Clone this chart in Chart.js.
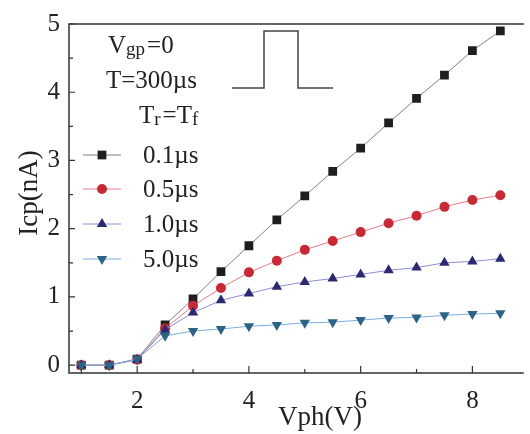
<!DOCTYPE html>
<html>
<head>
<meta charset="utf-8">
<script src="https://cdn.jsdelivr.net/npm/chart.js@4/dist/chart.umd.min.js"></script>
<style>
  body { margin: 0; background: #fff; }
</style>
</head>
<body>
<canvas id="myChart" width="530" height="434"></canvas>
<script>
var vph = [1, 1.5, 2, 2.5, 3, 3.5, 4, 4.5, 5, 5.5, 6, 6.5, 7, 7.5, 8, 8.5];
var icp01 = [0, 0, 0.09, 0.59, 0.97, 1.37, 1.75, 2.13, 2.48, 2.84, 3.18, 3.55, 3.91, 4.25, 4.61, 4.90];
var icp05 = [0, 0, 0.08, 0.54, 0.87, 1.13, 1.36, 1.53, 1.69, 1.82, 1.95, 2.08, 2.19, 2.32, 2.42, 2.49];
var icp10 = [0, 0, 0.08, 0.52, 0.77, 0.95, 1.05, 1.15, 1.22, 1.27, 1.33, 1.39, 1.43, 1.50, 1.52, 1.56];
var icp50 = [0, 0, 0.09, 0.43, 0.50, 0.53, 0.57, 0.59, 0.62, 0.63, 0.66, 0.69, 0.70, 0.73, 0.75, 0.76];
var seriesNames = ["0.1µs", "0.5µs", "1.0µs", "5.0µs"];
var xTickLabels = [2, 4, 6, 8];
var xMinorTicks = [1, 3, 5, 7];
var yTickLabels = [0, 1, 2, 3, 4, 5];
var yMinorTicks = [0.5, 1.5, 2.5, 3.5, 4.5];

var serif = '"Liberation Serif", "Times New Roman", serif';

function toPoints(ys) {
    return vph.map(function(x, i) { return { x: x, y: ys[i] }; });
}

function makeSet(label, ys, marker, line, style, radius, rot, order) {
    return {
        label: label,
        data: toPoints(ys),
        borderColor: line,
        borderWidth: 1,
        backgroundColor: marker,
        pointBackgroundColor: marker,
        pointBorderColor: marker,
        pointBorderWidth: 0,
        pointStyle: style,
        pointRadius: radius,
        pointRotation: rot,
        tension: 0,
        order: order
    };
}

// frame, inward ticks, titles, legend and the pulse sketch
var decorations = {
    id: 'decorations',
    afterDraw: function(chart) {
        var ctx = chart.ctx;
        var a = chart.chartArea;
        var xs = chart.scales.x, ys = chart.scales.y;
        ctx.save();
        ctx.strokeStyle = '#333';
        ctx.lineWidth = 1.5;
        ctx.beginPath();
        ctx.moveTo(a.right, a.top);
        ctx.lineTo(a.left, a.top);
        ctx.lineTo(a.left, a.bottom);
        ctx.lineTo(a.right, a.bottom);
        ctx.stroke();

        ctx.lineWidth = 1.2;
        ctx.beginPath();
        xTickLabels.forEach(function(v) {
            var p = xs.getPixelForValue(v);
            ctx.moveTo(p, a.bottom); ctx.lineTo(p, a.bottom - 7);
        });
        xMinorTicks.forEach(function(v) {
            var p = xs.getPixelForValue(v);
            ctx.moveTo(p, a.bottom); ctx.lineTo(p, a.bottom - 4);
        });
        yTickLabels.forEach(function(v) {
            var p = ys.getPixelForValue(v);
            ctx.moveTo(a.left, p); ctx.lineTo(a.left + 6, p);
        });
        yMinorTicks.forEach(function(v) {
            var p = ys.getPixelForValue(v);
            ctx.moveTo(a.left, p); ctx.lineTo(a.left + 4, p);
        });
        ctx.stroke();

        // axis titles
        ctx.fillStyle = '#222';
        ctx.font = '27px ' + serif;
        ctx.textAlign = 'center';
        ctx.textBaseline = 'middle';
        ctx.fillText('Vph(V)', 320, 418);
        ctx.save();
        ctx.translate(30, 193);
        ctx.rotate(-Math.PI / 2);
        ctx.fillText('Icp(nA)', 0, 0);
        ctx.restore();

        // annotation text
        ctx.textAlign = 'left';
        ctx.textBaseline = 'alphabetic';
        var x = 108;
        ctx.font = '25px ' + serif;
        ctx.fillText('V', x, 53); x += ctx.measureText('V').width;
        ctx.font = '19px ' + serif;
        ctx.fillText('gp', x, 55); x += ctx.measureText('gp').width + 2;
        ctx.font = '25px ' + serif;
        ctx.fillText('=0', x, 53);
        ctx.fillText('T=300µs', 106, 88);
        x = 139;
        ctx.fillText('T', x, 123); x += ctx.measureText('T').width;
        ctx.font = '19px ' + serif;
        ctx.fillText('r', x, 125); x += ctx.measureText('r').width + 2;
        ctx.font = '25px ' + serif;
        ctx.fillText('=T', x, 123); x += ctx.measureText('=T').width;
        ctx.font = '19px ' + serif;
        ctx.fillText('f', x, 125);

        // pulse sketch
        ctx.strokeStyle = '#444';
        ctx.lineWidth = 1.5;
        ctx.beginPath();
        ctx.moveTo(232, 88); ctx.lineTo(264, 88); ctx.lineTo(264, 31);
        ctx.lineTo(298, 31); ctx.lineTo(298, 88); ctx.lineTo(333, 88);
        ctx.stroke();

        // legend
        var rows = [155, 189, 224, 259];
        chart.data.datasets.forEach(function(ds, i) {
            var y = rows[i];
            ctx.strokeStyle = ds.borderColor;
            ctx.lineWidth = 1;
            ctx.beginPath();
            ctx.moveTo(83, y); ctx.lineTo(121, y);
            ctx.stroke();
            ctx.fillStyle = ds.pointBackgroundColor;
            ctx.strokeStyle = ds.pointBorderColor;
            Chart.helpers.drawPoint(ctx, {
                pointStyle: ds.pointStyle,
                radius: ds.pointRadius,
                rotation: ds.pointRotation,
                borderWidth: 0
            }, 102, y);
            ctx.fillStyle = '#222';
            ctx.font = '25px ' + serif;
            ctx.textBaseline = 'middle';
            ctx.fillText(seriesNames[i], 143, y + 1);
        });
        ctx.restore();
    }
};

var ctx = document.getElementById("myChart").getContext('2d');

var myChart = new Chart(ctx, {
    type: 'line',
    data: {
        datasets: [
            makeSet(seriesNames[0], icp01, '#1e1e1e', '#808080', 'rect', 6.2, 0, 3),
            makeSet(seriesNames[1], icp05, '#c62a35', '#e87a8a', 'circle', 5, 0, 2),
            makeSet(seriesNames[2], icp10, '#2b2a70', '#8e8cd8', 'triangle', 6, 0, 1),
            makeSet(seriesNames[3], icp50, '#2d6486', '#7aaee0', 'triangle', 6, 180, 0)
        ]
    },
    options: {
        responsive: false,
        animation: false,
        layout: { padding: { top: 16, right: 0, left: 0, bottom: 0 } },
        plugins: {
            legend: { display: false },
            tooltip: { enabled: false }
        },
        scales: {
            x: {
                type: 'linear',
                min: 0.78,
                max: 8.92,
                afterBuildTicks: function(s) {
                    s.ticks = xTickLabels.map(function(v) { return { value: v }; });
                },
                afterFit: function(s) { s.height = 61; },
                grid: { display: false, drawTicks: false },
                border: { display: false },
                ticks: {
                    font: { family: serif, size: 25 },
                    color: '#222',
                    padding: 13,
                    maxRotation: 0,
                    autoSkip: false
                }
            },
            y: {
                min: -0.115,
                max: 5,
                afterBuildTicks: function(s) {
                    s.ticks = yTickLabels.map(function(v) { return { value: v }; });
                },
                afterFit: function(s) { s.width = 69; },
                grid: { display: false, drawTicks: false },
                border: { display: false },
                ticks: {
                    font: { family: serif, size: 25 },
                    color: '#222',
                    padding: 9,
                    autoSkip: false
                }
            }
        }
    },
    plugins: [decorations]
});
</script>
</body>
</html>
